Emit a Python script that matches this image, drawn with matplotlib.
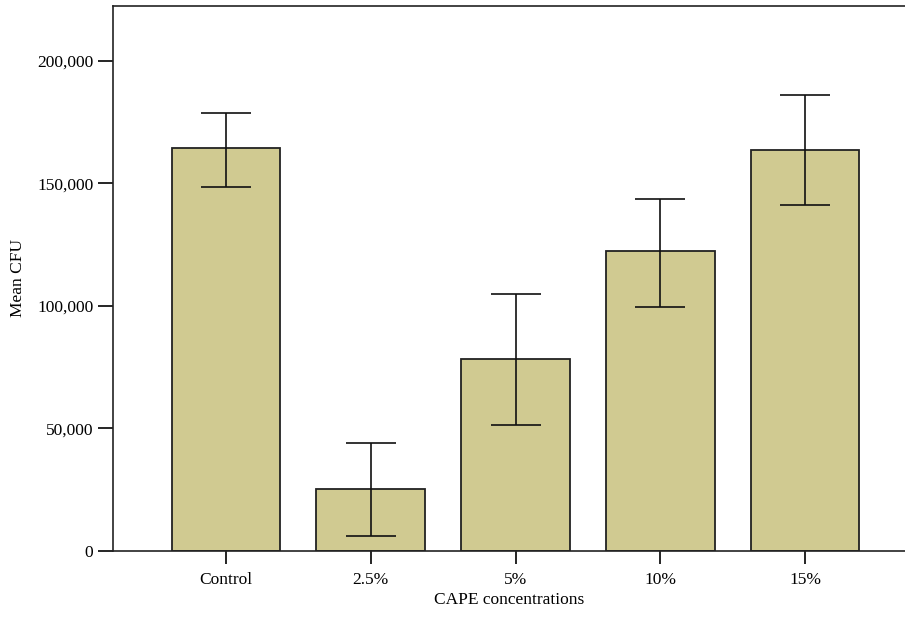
import matplotlib
matplotlib.use('Agg')
import matplotlib.pyplot as plt
import numpy as np
from matplotlib.ticker import FuncFormatter

categories = ['Control', '2.5%', '5%', '10%', '15%']
means = [164600, 25200, 78500, 122400, 163800]
err_upper = [178900, 44200, 105000, 143800, 186200]
err_lower = [148400, 6100, 51300, 99600, 141200]

plt.rcParams['font.family'] = ['Liberation Serif', 'DejaVu Serif']

fig = plt.figure(figsize=(9.05, 6.18), dpi=100)
ax = fig.add_axes([0.1254, 0.1084, 0.8746, 0.8827])

x = np.arange(len(categories))
means_arr = np.array(means)
yerr = [means_arr - np.array(err_lower), np.array(err_upper) - means_arr]

ax.bar(x, means, width=0.75, color='#d0ca91', edgecolor='#222222', linewidth=1.3, zorder=2)
ax.errorbar(x, means, yerr=yerr, fmt='none', ecolor='#111111', elinewidth=1.2,
            capsize=18, capthick=1.2, zorder=3)

ax.set_xlim(-0.777, 4.69)
ax.set_ylim(0, 222600)
ax.set_yticks([0, 50000, 100000, 150000, 200000])
ax.yaxis.set_major_formatter(FuncFormatter(lambda v, p: f'{int(v):,}'))
ax.set_xticks(x)
ax.set_xticklabels(categories)

ax.spines['right'].set_visible(False)
for s in ['left', 'bottom', 'top']:
    ax.spines[s].set_linewidth(1.2)
    ax.spines[s].set_color('#222222')

ax.tick_params(axis='y', length=10.5, width=1.2, labelsize=12.5, pad=4)
ax.tick_params(axis='x', length=9, width=1.2, labelsize=12.5, pad=6)

ax.set_xlabel('CAPE concentrations', fontsize=12.5, labelpad=3)
ax.set_ylabel('Mean CFU', fontsize=12.5, labelpad=8)

fig.savefig('out.png', dpi=100)
